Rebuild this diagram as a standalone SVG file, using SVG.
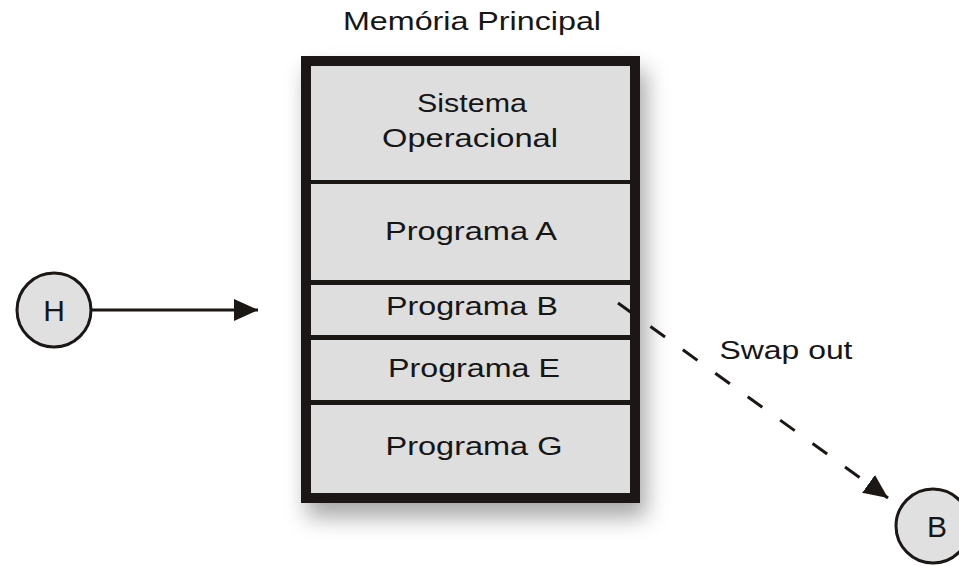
<svg xmlns="http://www.w3.org/2000/svg" width="959" height="566" viewBox="0 0 959 566">
<defs>
<style>
.t{font-family:"Liberation Sans",Arial,sans-serif;font-size:25px;fill:#161616;text-anchor:middle}
.n{font-family:"Liberation Sans",Arial,sans-serif;font-size:30px;fill:#161616;text-anchor:middle}
.cell{fill:#dedede}
.div{fill:#1a1714}
.node{fill:#e0e0e0;stroke:#1a1714;stroke-width:3}
.conn{stroke:#1a1714;stroke-width:3;fill:none}
</style>
<marker id="ah" markerUnits="userSpaceOnUse" markerWidth="26" markerHeight="24" refX="24" refY="11" orient="auto">
<path d="M0,0 L24,11 L0,22 Z" fill="#1a1714"/>
</marker>
<filter id="sh" x="-20%" y="-20%" width="140%" height="140%">
<feDropShadow dx="6" dy="14" stdDeviation="11" flood-color="#000" flood-opacity="0.35"/>
</filter>
</defs>
<rect width="959" height="566" fill="#fff"/>
<text class="t" x="472" y="30" font-size="27" textLength="258" lengthAdjust="spacingAndGlyphs">Memória Principal</text>
<g id="memoria">
<rect x="301" y="56" width="339" height="447" fill="#1a1714" filter="url(#sh)"/>
<rect class="cell" x="311" y="66" width="319" height="427"/>
<rect class="div" x="311" y="180" width="319" height="4"/>
<rect class="div" x="311" y="280" width="319" height="5"/>
<rect class="div" x="311" y="335" width="319" height="5"/>
<rect class="div" x="311" y="400" width="319" height="5"/>
<text class="t" x="472" y="112" textLength="110" lengthAdjust="spacingAndGlyphs">Sistema</text>
<text class="t" x="470" y="147" textLength="176" lengthAdjust="spacingAndGlyphs">Operacional</text>
<text class="t" x="471" y="240" textLength="172" lengthAdjust="spacingAndGlyphs">Programa A</text>
<text class="t" x="472" y="315" textLength="172" lengthAdjust="spacingAndGlyphs">Programa B</text>
<text class="t" x="474" y="377" textLength="172" lengthAdjust="spacingAndGlyphs">Programa E</text>
<text class="t" x="474" y="455" textLength="177" lengthAdjust="spacingAndGlyphs">Programa G</text>
</g>
<g id="H">
<circle class="node" cx="54" cy="310" r="37"/>
<text class="n" x="54" y="321">H</text>
</g>
<g id="B">
<circle class="node" cx="933" cy="526" r="37"/>
<text class="n" x="937" y="537">B</text>
</g>
<g id="connectors">
<line class="conn" x1="92" y1="310" x2="258" y2="310" marker-end="url(#ah)"/>
<line class="conn" x1="618" y1="303" x2="888" y2="498" stroke-dasharray="18 22" marker-end="url(#ah)"/>
<text class="t" x="786" y="359" textLength="133" lengthAdjust="spacingAndGlyphs">Swap out</text>
</g>
</svg>
